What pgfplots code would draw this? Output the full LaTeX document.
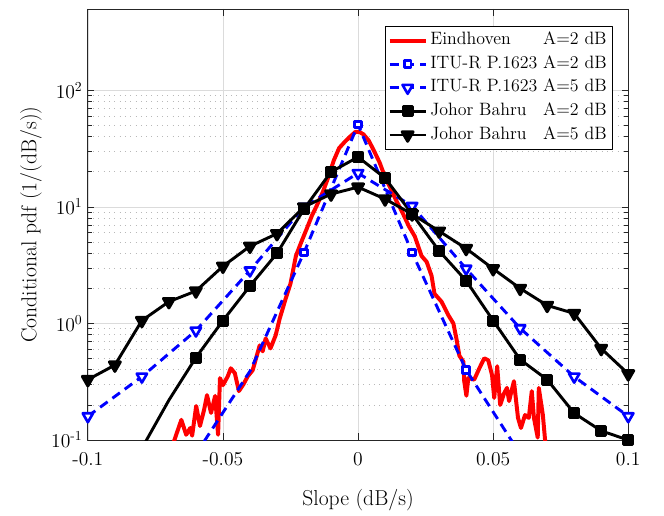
\documentclass[border=0pt]{standalone}
\usepackage{fontspec}
\usepackage{pgfplots}
\pgfplotsset{compat=1.18}
\definecolor{mblue}{RGB}{0,0,255}
\definecolor{mred}{RGB}{255,0,0}
\newlength\lw
\begin{document}
\settowidth{\lw}{\fontsize{13.5}{16}\selectfont ITU-R P.1623\ }
\begin{tikzpicture}
\begin{axis}[
  scale only axis, width=408pt, height=325.5pt,
  xmin=-0.1, xmax=0.1, ymode=log, ymin=0.1, ymax=500,
  xtick={-0.1,-0.05,0,0.05,0.1},
  xticklabels={-0.1,-0.05,0,0.05,0.1},
  ytick={0.1,1,10,100},
  yticklabels={10\textsuperscript{-1},10\textsuperscript{0},10\textsuperscript{1},10\textsuperscript{2}},
  ticklabel style={font=\fontsize{14.8}{17}\selectfont},
  xticklabel style={yshift=-5.5pt},
  yticklabel style={xshift=-0.5pt},
  label style={font=\fontsize{16.3}{19}\selectfont},
  xlabel={Slope (dB/s)}, ylabel={Conditional pdf (1/(dB/s))},
  xlabel style={at={(axis description cs:0.5,-0.139)}, anchor=center},
  ylabel style={at={(axis description cs:-0.105,0.5)}, anchor=center},
  xmajorgrids, ymajorgrids, yminorgrids,
  major grid style={draw=black!14, line width=0.5pt},
  minor grid style={draw=black!28, line width=0.6pt, dash pattern=on 0.6pt off 3.4pt},
  axis line style={draw=black!85, line width=0.6pt},
  major tick length=5pt, minor tick length=3pt,
  every tick/.style={black!85, line width=0.6pt},
  tick align=inside,
  legend cell align=left,
  legend style={at={(axis description cs:1,1)}, anchor=north east, xshift=-12pt, yshift=-12.75pt,
    draw=black, line width=0.6pt, fill=white, font=\fontsize{13.5}{16}\selectfont,
    row sep=0pt, inner sep=2pt,
    nodes={inner sep=2pt, text height=10pt, text depth=3.8pt}},
  legend image code/.code={\draw[#1, mark indices={2}] plot coordinates {(0cm,0cm) (0.48cm,0cm) (0.96cm,0cm)};},
  line join=round,
]
% Eindhoven A=2 dB
\addplot[mred, line width=3pt, no marks] coordinates {
(-0.0690,0.085) (-0.0673,0.111) (-0.0654,0.149) (-0.0636,0.111) (-0.0621,0.127) (-0.0614,0.109)
(-0.0599,0.196) (-0.0585,0.132) (-0.0570,0.181) (-0.0559,0.243) (-0.0544,0.171) (-0.0529,0.239)
(-0.0518,0.111) (-0.0511,0.34) (-0.0500,0.296) (-0.0482,0.353) (-0.0471,0.413) (-0.0456,0.375)
(-0.0441,0.263) (-0.0426,0.296) (-0.0408,0.353) (-0.0390,0.397) (-0.0364,0.649) (-0.0353,0.577)
(-0.0342,0.745) (-0.0324,0.612) (-0.0305,0.791) (-0.0290,1.10) (-0.0268,1.63) (-0.0250,2.2)
(-0.0230,3.8) (-0.0210,5.0) (-0.0190,6.5) (-0.0170,8.5) (-0.0155,10) (-0.0130,13.5)
(-0.0110,18) (-0.0090,25) (-0.0070,32) (-0.0050,36) (-0.0030,40) (-0.0010,44) (0.0005,44)
(0.0020,42) (0.0040,37) (0.0060,30) (0.0080,24) (0.0100,18) (0.0120,14.5) (0.0140,11.5)
(0.0162,9.2) (0.0188,6.84) (0.0210,5.6) (0.0235,3.8) (0.0254,3.38) (0.0272,2.57) (0.0283,1.80)
(0.0309,1.54) (0.0335,1.17) (0.0353,1.0) (0.0364,0.745) (0.0375,0.53) (0.0390,0.47) (0.0393,0.32)
(0.0401,0.24) (0.0408,0.34) (0.0430,0.33) (0.0449,0.413) (0.0467,0.503) (0.0482,0.484)
(0.0496,0.36) (0.0504,0.23) (0.0515,0.43) (0.0526,0.20) (0.0540,0.25) (0.0551,0.28) (0.0559,0.216)
(0.0577,0.32) (0.0592,0.155) (0.0603,0.127) (0.0618,0.164) (0.0632,0.155) (0.0643,0.263)
(0.0651,0.155) (0.0665,0.105) (0.0669,0.28) (0.0684,0.164) (0.0695,0.085)
};
\addlegendentry{\makebox[\lw][l]{Eindhoven}A=2 dB}
% ITU-R A=2
\addplot[mblue, line width=2.2pt, dash pattern=on 7pt off 4.5pt, mark=square*,
  mark options={solid, fill=white, line width=2.2pt}, mark size=2.5pt, mark indices={2,3,4,5,6}] coordinates {
(-0.06,0.076) (-0.04,0.39) (-0.02,4.06) (0,51) (0.02,4.06) (0.04,0.40) (0.06,0.076)
};
\addlegendentry{ITU-R P.1623 A=2 dB}
% ITU-R A=5
\addplot[mblue, line width=2.2pt, dash pattern=on 7pt off 4.5pt, mark=triangle*,
  mark options={solid, fill=white, line width=2pt, rotate=180}, mark size=4.5pt] coordinates {
(-0.1,0.16) (-0.08,0.35) (-0.06,0.87) (-0.04,2.85) (-0.02,10) (0,19.5)
(0.02,10.2) (0.04,2.95) (0.06,0.91) (0.08,0.35) (0.1,0.16)
};
\addlegendentry{ITU-R P.1623 A=5 dB}
% Johor Bahru A=2
\addplot[black, line width=2.2pt, mark=square*, mark size=3.4pt,
  mark indices={2,3,4,5,6,7,8,9,10,11,12,13,14,15,16,17,18,19}] coordinates {
(-0.08,0.085) (-0.07,0.22) (-0.06,0.51) (-0.05,1.06) (-0.04,2.1) (-0.03,4.0) (-0.02,9.6)
(-0.01,20) (0,26.8) (0.01,17.7) (0.02,8.7) (0.03,4.2) (0.04,2.33) (0.05,1.06) (0.06,0.49)
(0.07,0.33) (0.08,0.17) (0.09,0.12) (0.1,0.1)
};
\addlegendentry{\makebox[\lw][l]{Johor Bahru}A=2 dB}
% Johor Bahru A=5
\addplot[black, line width=2.2pt, mark=triangle*, mark options={rotate=180}, mark size=4.8pt] coordinates {
(-0.1,0.33) (-0.09,0.44) (-0.08,1.06) (-0.07,1.54) (-0.06,1.9) (-0.05,3.1) (-0.04,4.6)
(-0.03,5.9) (-0.02,10) (-0.01,12.9) (0,14.8) (0.01,11.7) (0.02,8.7) (0.03,6.2) (0.04,4.4)
(0.05,2.95) (0.06,2.0) (0.07,1.43) (0.08,1.22) (0.09,0.61) (0.1,0.37)
};
\addlegendentry{\makebox[\lw][l]{Johor Bahru}A=5 dB}
\end{axis}
\useasboundingbox (-63pt,-45pt) rectangle (435pt,332.25pt);
\end{tikzpicture}
\end{document}
